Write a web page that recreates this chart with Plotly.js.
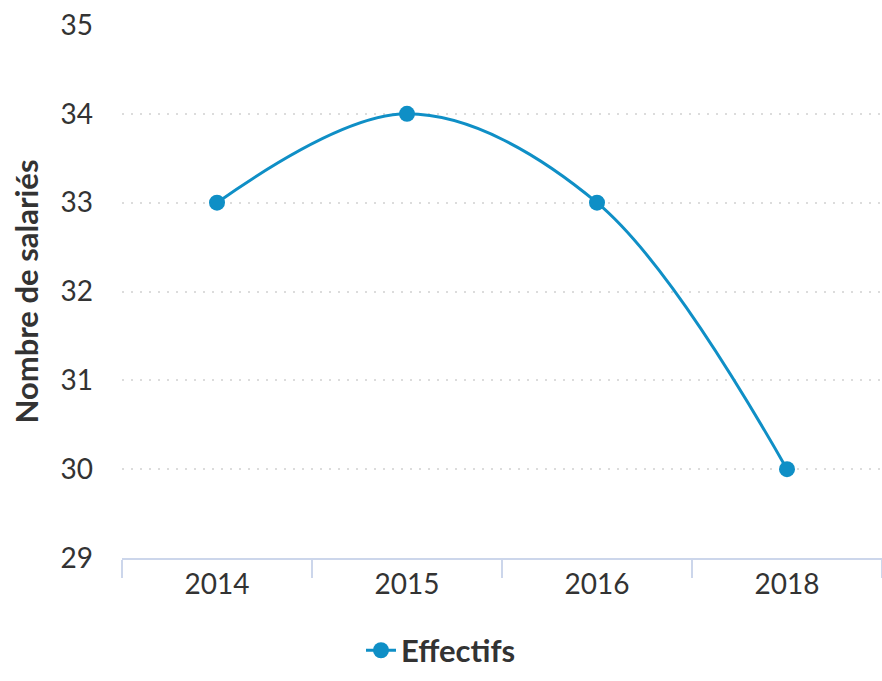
<!DOCTYPE html>
<html><head><meta charset="utf-8">
<script src="https://cdn.plot.ly/plotly-3.0.1.min.js"></script>
<style>html,body{margin:0;padding:0;background:#fff}#chart{width:882px;height:681px}</style>
</head><body><div id="chart"></div>
<script>
const years = ["2014", "2015", "2016", "2018"];
const effectifs = [33, 34, 33, 30];
const seriesName = "Effectifs";
const yTitle = "Nombre de salariés";

const color = "#0f8fc6";
const trace = {
  x: years, y: effectifs, name: seriesName, type: "scatter", mode: "lines+markers",
  line: {color: color, width: 3, shape: "spline", smoothing: 1},
  marker: {color: color, size: 16}
};
const layout = {
  width: 882, height: 681,
  margin: {l: 122, r: 0, t: 25, b: 123},
  paper_bgcolor: "#fff", plot_bgcolor: "#fff",
  font: {family: "Lato, sans-serif", size: 28, color: "#333333"},
  showlegend: true,
  legend: {orientation: "h", xref: "container", yref: "container", x: 0.5, xanchor: "center", y: 0.005, yanchor: "bottom",
           font: {size: 31, color: "#333333", weight: "bold"}},
  xaxis: {type: "category", range: [-0.5, 3.5], showline: true, linecolor: "#ccd6eb", linewidth: 2,
          ticks: "outside", tickson: "boundaries", ticklen: 18, tickwidth: 2, tickcolor: "#ccd6eb",
          showgrid: false, zeroline: false, tickfont: {size: 28, color: "#333333"}},
  yaxis: {range: [29, 35], dtick: 1, tick0: 29, showgrid: true, gridcolor: "#dcdcdc", griddash: "2px,7px", gridwidth: 2,
          zeroline: false, showline: false, ticks: "", ticklabelstandoff: 28,
          tickfont: {size: 28, color: "#333333"},
          title: {text: yTitle, font: {size: 31, color: "#333333", weight: "bold"}, standoff: 12}}
};
Plotly.newPlot("chart", [trace], layout, {displayModeBar: false, staticPlot: true});
</script></body></html>
